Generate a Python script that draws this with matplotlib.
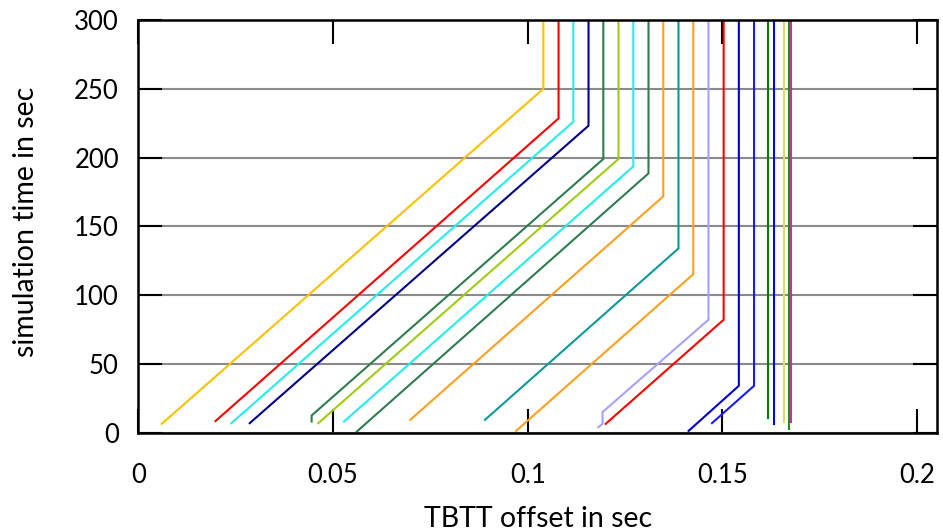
import matplotlib
matplotlib.use("Agg")
import matplotlib.pyplot as plt

plt.rcParams["font.family"] = ["Lato", "DejaVu Sans"]

# Each node: TBTT offset (x) vs simulation time (y)
node_x = [
    [0.0060, 0.1040, 0.1040],
    [0.0198, 0.1079, 0.1079],
    [0.0239, 0.1117, 0.1117],
    [0.0286, 0.1156, 0.1156],
    [0.0445, 0.0445, 0.1194, 0.1194],
    [0.0462, 0.1233, 0.1233],
    [0.0528, 0.1271, 0.1271],
    [0.0561, 0.1310, 0.1310],
    [0.0698, 0.1348, 0.1348],
    [0.0890, 0.1387, 0.1387],
    [0.0970, 0.1425, 0.1425],
    [0.1181, 0.1192, 0.1192, 0.1464, 0.1464],
    [0.1200, 0.1503, 0.1503],
    [0.1413, 0.1542, 0.1542],
    [0.1473, 0.1581, 0.1581],
    [0.1618, 0.1618],
    [0.1632, 0.1632],
    [0.1657, 0.1657],
    [0.1670, 0.1670],
    [0.1676, 0.1676],
]
node_y = [
    [6.3, 250.2, 300],
    [8.3, 228.6, 300],
    [6.8, 226.2, 300],
    [6.8, 223.3, 300],
    [8.0, 12.4, 199.1, 300],
    [6.8, 199.1, 300],
    [8.0, 193.7, 300],
    [0.7, 188.6, 300],
    [9.2, 171.9, 300],
    [9.2, 134.0, 300],
    [1.2, 115.3, 300],
    [3.9, 6.3, 14.9, 82.1, 300],
    [6.3, 82.1, 300],
    [1.2, 34.0, 300],
    [6.8, 34.0, 300],
    [10.5, 300],
    [6.1, 300],
    [7.3, 300],
    [2.4, 300],
    [7.3, 300],
]
node_colors = [
    "#ffc000", "#ff0000", "#22eeee", "#00008b", "#2e7d4f",
    "#a0cc10", "#22eeee", "#2e7d4f", "#ff9f1a", "#0a9a9a",
    "#ff9f1a", "#a8a0ff", "#ff0000", "#0000cd", "#1a1aff",
    "#008000", "#0000ff", "#dddd66", "#228b22", "#d0308a",
]

x_ticks = [0, 0.05, 0.1, 0.15, 0.2]
x_tick_labels = ["0", "0.05", "0.1", "0.15", "0.2"]
y_ticks = [0, 50, 100, 150, 200, 250, 300]

fig = plt.figure(figsize=(9.43, 5.32), dpi=100)
ax = fig.add_axes([0.1467, 0.187, 0.8466, 0.7748])

for xs, ys, c in zip(node_x, node_y, node_colors):
    ax.plot(xs, ys, color=c, linewidth=1.5, solid_joinstyle="miter")

ax.set_xlim(0, 0.205)
ax.set_ylim(0, 300)
ax.set_xticks(x_ticks)
ax.set_xticklabels(x_tick_labels)
ax.set_yticks(y_ticks)

ax.yaxis.grid(True, color="#8a8a8a", linewidth=1.5)
ax.set_axisbelow(True)
ax.tick_params(direction="in", length=17, width=1.5, color="black",
               labelsize=18.5, top=True, right=True)
ax.tick_params(axis="x", pad=22)
ax.tick_params(axis="y", pad=14)
for s in ax.spines.values():
    s.set_linewidth(1.8)

# axis titles placed by hand to sit where the reference has them
fig.text(538 / 943, 1 - 519 / 532, "TBTT offset in sec", fontsize=20.5,
         ha="center", va="center")
fig.text(26 / 943, 1 - 222 / 532, "simulation time in sec", fontsize=20.5,
         ha="center", va="center", rotation=90)

fig.savefig("out.png", dpi=100)
